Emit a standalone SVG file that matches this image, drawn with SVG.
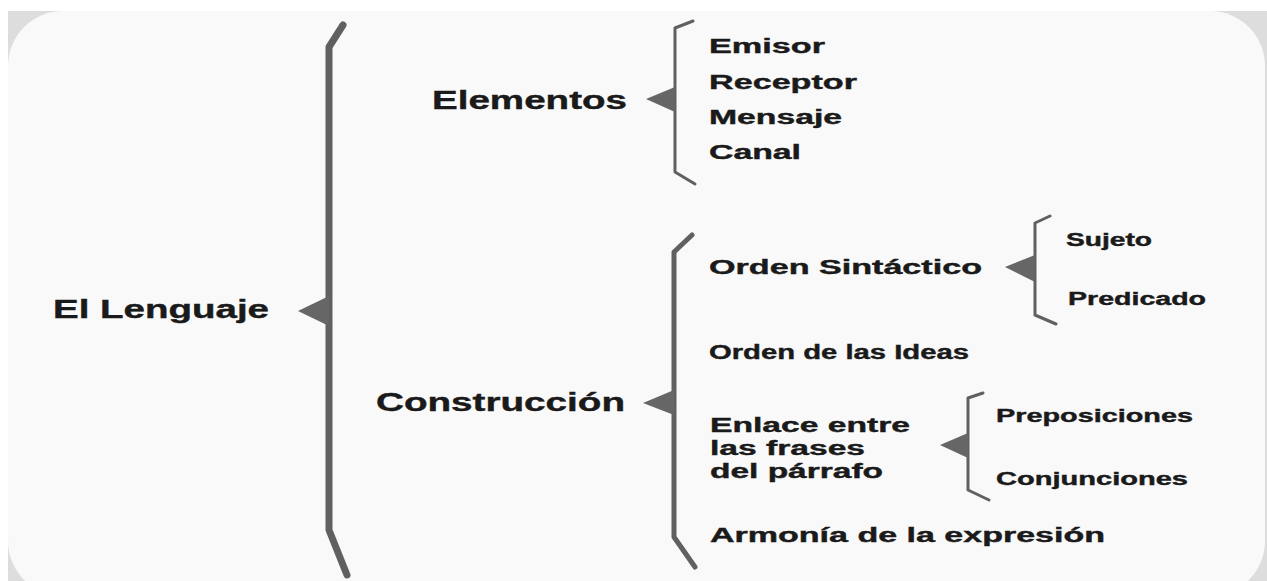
<svg xmlns="http://www.w3.org/2000/svg" width="1267" height="581" viewBox="0 0 1267 581">
<style>
.t{font-family:"Liberation Sans",Arial,sans-serif;font-weight:bold;fill:#1a1a1a;stroke:#1a1a1a;stroke-width:0.4px}
.l1{font-size:26px}
.l2{font-size:20px}
.l3{font-size:18px}
.br{fill:none;stroke:#606060;stroke-linecap:round;stroke-linejoin:round}
.ar{fill:#666666}
</style>
<rect x="0" y="0" width="1267" height="581" fill="#ffffff"/>
<rect x="8" y="11" width="1259" height="570" fill="#dddddd"/>
<rect x="8" y="11" width="1257" height="585" rx="55" ry="55" fill="#f9f9f9"/>

<g id="connectors">
  <path class="br" d="M343,25 L329,47 L329,530 L347,575" stroke-width="7"/>
  <polygon class="ar" points="298,311 329,296 329,326"/>
  <path class="br" d="M693,21 L675,28 L675,172 L695,184" stroke-width="3"/>
  <polygon class="ar" points="646,99 675,87 675,112"/>
  <path class="br" d="M692,235 L674,252 L674,537 L695,567" stroke-width="5"/>
  <polygon class="ar" points="643,403 674,390 674,415"/>
  <path class="br" d="M1050,216 L1035,223 L1035,315 L1056,324" stroke-width="3"/>
  <polygon class="ar" points="1005,267 1035,255 1035,282"/>
  <path class="br" d="M983,393 L968,398 L968,490 L989,500" stroke-width="3"/>
  <polygon class="ar" points="940,445 968,433 968,458"/>
</g>

<g id="node-lenguaje"><text class="t l1" x="53" y="318" textLength="216" lengthAdjust="spacingAndGlyphs">El Lenguaje</text></g>
<g id="node-elementos"><text class="t l1" x="432" y="109" textLength="195" lengthAdjust="spacingAndGlyphs">Elementos</text></g>
<g id="node-emisor"><text class="t l2" x="709" y="53" textLength="116" lengthAdjust="spacingAndGlyphs">Emisor</text></g>
<g id="node-receptor"><text class="t l2" x="709" y="89" textLength="148" lengthAdjust="spacingAndGlyphs">Receptor</text></g>
<g id="node-mensaje"><text class="t l2" x="709" y="124" textLength="133" lengthAdjust="spacingAndGlyphs">Mensaje</text></g>
<g id="node-canal"><text class="t l2" x="709" y="159" textLength="92" lengthAdjust="spacingAndGlyphs">Canal</text></g>
<g id="node-construccion"><text class="t l1" x="376" y="411" textLength="249" lengthAdjust="spacingAndGlyphs">Construcción</text></g>
<g id="node-orden-sintactico"><text class="t l2" x="709" y="274" textLength="273" lengthAdjust="spacingAndGlyphs">Orden Sintáctico</text></g>
<g id="node-sujeto"><text class="t l3" x="1066" y="246" textLength="86" lengthAdjust="spacingAndGlyphs">Sujeto</text></g>
<g id="node-predicado"><text class="t l3" x="1068" y="305" textLength="138" lengthAdjust="spacingAndGlyphs">Predicado</text></g>
<g id="node-orden-ideas"><text class="t l2" x="709" y="359" textLength="260" lengthAdjust="spacingAndGlyphs">Orden de las Ideas</text></g>
<g id="node-enlace">
  <text class="t l2" x="710" y="432" textLength="200" lengthAdjust="spacingAndGlyphs">Enlace entre</text>
  <text class="t l2" x="710" y="455" textLength="155" lengthAdjust="spacingAndGlyphs">las frases</text>
  <text class="t l2" x="710" y="478" textLength="173" lengthAdjust="spacingAndGlyphs">del párrafo</text>
</g>
<g id="node-preposiciones"><text class="t l3" x="996" y="422" textLength="197" lengthAdjust="spacingAndGlyphs">Preposiciones</text></g>
<g id="node-conjunciones"><text class="t l3" x="996" y="485" textLength="192" lengthAdjust="spacingAndGlyphs">Conjunciones</text></g>
<g id="node-armonia"><text class="t l2" x="710" y="542" textLength="395" lengthAdjust="spacingAndGlyphs">Armonía de la expresión</text></g>
</svg>
